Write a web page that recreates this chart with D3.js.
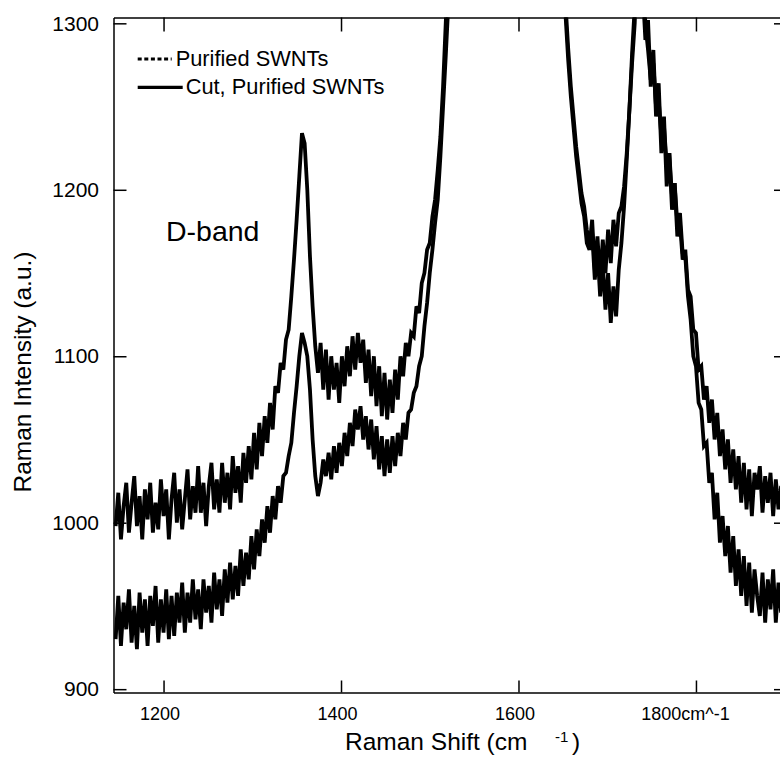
<!DOCTYPE html>
<html>
<head>
<meta charset="utf-8">
<script src="https://cdn.jsdelivr.net/npm/d3@7"></script>
<style>
  body { margin: 0; background: #fff; }
  svg { display: block; font-family: "Liberation Sans", Arial, sans-serif; }
</style>
</head>
<body>
<svg id="raman-plot" width="780" height="762"></svg>
<script>
// raman shift grid (cm^-1), sampled every 3 cm^-1
const shiftLow = d3.range(1146, 1522, 3);
const shiftMid = [1540, 1570, 1600, 1630];
const shiftHigh = d3.range(1650, 1906, 3);

// purified SWNTs (upper baseline, strong D-band)
const purifiedLow = [
  998, 1018, 990, 1010, 1024, 994, 1012, 1028, 998, 1016, 990, 1020, 1002, 1024, 994, 1012,
  996, 1026, 1004, 1020, 990, 1014, 1030, 1000, 1020, 996, 1014, 1032, 1002, 1022, 1006, 1034,
  1006, 1024, 998, 1022, 1036, 1008, 1026, 1006, 1036, 1012, 1030, 1008, 1040, 1018, 1034, 1012,
  1042, 1024, 1046, 1026, 1054, 1032, 1060, 1040, 1064, 1048, 1072, 1056, 1082, 1078, 1096, 1092,
  1110, 1116, 1136, 1158, 1182, 1208, 1234, 1228, 1200, 1160, 1130, 1106, 1090, 1108, 1080, 1104,
  1074, 1100, 1080, 1096, 1072, 1100, 1082, 1106, 1088, 1112, 1092, 1114, 1096, 1110, 1084, 1104,
  1076, 1100, 1070, 1094, 1064, 1090, 1062, 1086, 1066, 1092, 1074, 1100, 1088, 1108, 1100, 1114,
  1112, 1130, 1126, 1144, 1150, 1164, 1168, 1184, 1194, 1212, 1232, 1262, 1300, 1340
];
const purifiedMid = [1500, 1900, 2200, 1600];
const purifiedHigh = [
  1340, 1312, 1285, 1262, 1244, 1226, 1212, 1198, 1190, 1176, 1166, 1182, 1152, 1172, 1146, 1170,
  1150, 1176, 1156, 1182, 1166, 1186, 1190, 1202, 1222, 1248, 1282, 1310, 1350, 1360, 1320, 1290,
  1302, 1262, 1284, 1244, 1264, 1222, 1244, 1202, 1222, 1188, 1204, 1172, 1180, 1158, 1164, 1140,
  1136, 1116, 1114, 1092, 1094, 1074, 1082, 1060, 1074, 1050, 1066, 1040, 1056, 1032, 1050, 1024,
  1044, 1020, 1040, 1012, 1036, 1008, 1032, 1004, 1030, 1020, 1034, 1006, 1028, 1012, 1030, 1004,
  1026, 1008, 1022, 1010, 1024, 1014
];

// cut, purified SWNTs (lower baseline)
const cutLow = [
  930, 956, 926, 952, 936, 960, 928, 950, 924, 958, 934, 954, 926, 956, 938, 962,
  928, 954, 934, 960, 930, 956, 932, 958, 940, 964, 934, 958, 940, 966, 942, 960,
  936, 966, 946, 962, 940, 970, 948, 966, 944, 972, 952, 976, 954, 974, 956, 984,
  962, 982, 966, 992, 972, 996, 980, 1002, 988, 1010, 994, 1016, 1002, 1022, 1012, 1028,
  1030, 1040, 1048, 1066, 1082, 1100, 1114, 1108, 1100, 1080, 1050, 1028, 1016, 1024, 1038, 1028,
  1042, 1026, 1046, 1030, 1048, 1034, 1054, 1040, 1060, 1046, 1068, 1056, 1070, 1050, 1064, 1044,
  1062, 1038, 1058, 1032, 1052, 1028, 1050, 1030, 1052, 1034, 1054, 1040, 1060, 1050, 1066, 1068,
  1078, 1082, 1094, 1100, 1118, 1132, 1150, 1164, 1180, 1194, 1220, 1250, 1280, 1312
];
const cutMid = [1480, 1880, 2150, 1580];
const cutHigh = [
  1335, 1305, 1278, 1256, 1238, 1220, 1206, 1192, 1184, 1168, 1164, 1174, 1146, 1164, 1136, 1156,
  1128, 1150, 1120, 1142, 1124, 1152, 1168, 1190, 1218, 1248, 1276, 1300, 1345, 1355, 1330, 1300,
  1284, 1266, 1276, 1250, 1254, 1232, 1238, 1216, 1222, 1196, 1204, 1180, 1186, 1162, 1160, 1136,
  1122, 1100, 1094, 1072, 1068, 1046, 1048, 1024, 1030, 1002, 1018, 988, 1004, 980, 998, 970,
  992, 962, 984, 956, 980, 950, 976, 946, 972, 956, 944, 970, 940, 966, 948, 972,
  940, 964, 946, 968, 942, 960
];

const xTicks = [1200, 1400, 1600, 1800];
const xTickLabels = ["1200", "1400", "1600", "1800cm^-1"];
const yTicks = [900, 1000, 1100, 1200, 1300];

const joinSeries = (xs, ys) => xs.map((x, i) => ({ x, y: ys[i] }));
const series = [
  {
    name: "Purified SWNTs",
    points: joinSeries(shiftLow.concat(shiftMid, shiftHigh), purifiedLow.concat(purifiedMid, purifiedHigh)),
  },
  {
    name: "Cut, Purified SWNTs",
    points: joinSeries(shiftLow.concat(shiftMid, shiftHigh), cutLow.concat(cutMid, cutHigh)),
  },
];

// plot frame
const svg = d3.select("#raman-plot");
const frame = { left: 113.5, top: 17.5, right: 787, bottom: 692.5 };

const x = d3.scaleLinear().domain([1143.6, 1902.6]).range([frame.left, frame.right]);
const y = d3.scaleLinear().domain([898, 1303.5]).range([frame.bottom, frame.top]);

svg.append("clipPath").attr("id", "plot-clip")
  .append("rect")
  .attr("x", frame.left).attr("y", frame.top)
  .attr("width", frame.right - frame.left).attr("height", frame.bottom - frame.top);

// spectra
const line = d3.line().x((d) => x(d.x)).y((d) => y(d.y));
svg.append("g").attr("clip-path", "url(#plot-clip)")
  .selectAll("path")
  .data(series)
  .join("path")
  .attr("d", (d) => line(d.points))
  .attr("fill", "none")
  .attr("stroke", "#000")
  .attr("stroke-width", 3.8)
  .attr("stroke-linejoin", "miter")
  .attr("stroke-miterlimit", 3);

// axes, ticks point inward
const styleAxis = (g) => {
  g.selectAll(".domain, .tick line").attr("stroke", "#000").attr("stroke-width", 1.5);
  g.attr("font-family", null).attr("font-size", null);
  g.selectAll("text").attr("fill", "#000");
};

svg.append("g")
  .attr("transform", `translate(${frame.left},0)`)
  .call(d3.axisLeft(y).tickValues(yTicks).tickFormat(d3.format("d"))
    .tickSizeInner(-13).tickSizeOuter(0).tickPadding(14.5))
  .call(styleAxis)
  .selectAll("text").attr("font-size", 21);

svg.append("g")
  .attr("transform", `translate(${frame.right},0)`)
  .call(d3.axisRight(y).tickValues(yTicks).tickSizeInner(-13).tickSizeOuter(0).tickFormat(""))
  .call(styleAxis);

svg.append("g")
  .attr("transform", `translate(0,${frame.top})`)
  .call(d3.axisTop(x).tickValues(xTicks).tickSizeInner(-14).tickSizeOuter(0).tickFormat(""))
  .call(styleAxis);

svg.append("g")
  .attr("transform", `translate(0,${frame.bottom})`)
  .call(d3.axisBottom(x).tickValues(xTicks).tickSizeInner(-12).tickSizeOuter(0).tickPadding(15)
    .tickFormat((d, i) => xTickLabels[i]))
  .call(styleAxis)
  .selectAll("text")
  .attr("font-size", 18)
  .attr("dx", (d, i) => (i === xTicks.length - 1 ? -11 : -4));

// axis titles
svg.append("text")
  .attr("transform", "translate(31,372) rotate(-90)")
  .attr("text-anchor", "middle")
  .attr("font-size", 24.5)
  .text("Raman Intensity (a.u.)");

const xTitle = svg.append("text").attr("y", 750).attr("font-size", 24.5);
xTitle.append("tspan").attr("x", 345).text("Raman Shift (cm");
xTitle.append("tspan").attr("x", 555).attr("y", 742).attr("font-size", 15).text("-1");
xTitle.append("tspan").attr("x", 572).attr("y", 750).text(")");

// annotation
svg.append("text")
  .attr("x", 166).attr("y", 241)
  .attr("font-size", 28.5)
  .text("D-band");

// legend
const legendRows = [
  { label: "Purified SWNTs", dash: "4,2.6", x1: 137.7, x2: 171.7, y: 59, tx: 175.7, ty: 65.7 },
  { label: "Cut, Purified SWNTs", dash: null, x1: 137.7, x2: 182.7, y: 87.3, tx: 185.7, ty: 94 },
];
const legend = svg.append("g");
legend.selectAll("line")
  .data(legendRows)
  .join("line")
  .attr("x1", (d) => d.x1).attr("x2", (d) => d.x2)
  .attr("y1", (d) => d.y).attr("y2", (d) => d.y)
  .attr("stroke", "#000")
  .attr("stroke-width", 3.2)
  .attr("stroke-dasharray", (d) => d.dash);
legend.selectAll("text")
  .data(legendRows)
  .join("text")
  .attr("x", (d) => d.tx).attr("y", (d) => d.ty)
  .attr("font-size", 21.8)
  .text((d) => d.label);
</script>
</body>
</html>
